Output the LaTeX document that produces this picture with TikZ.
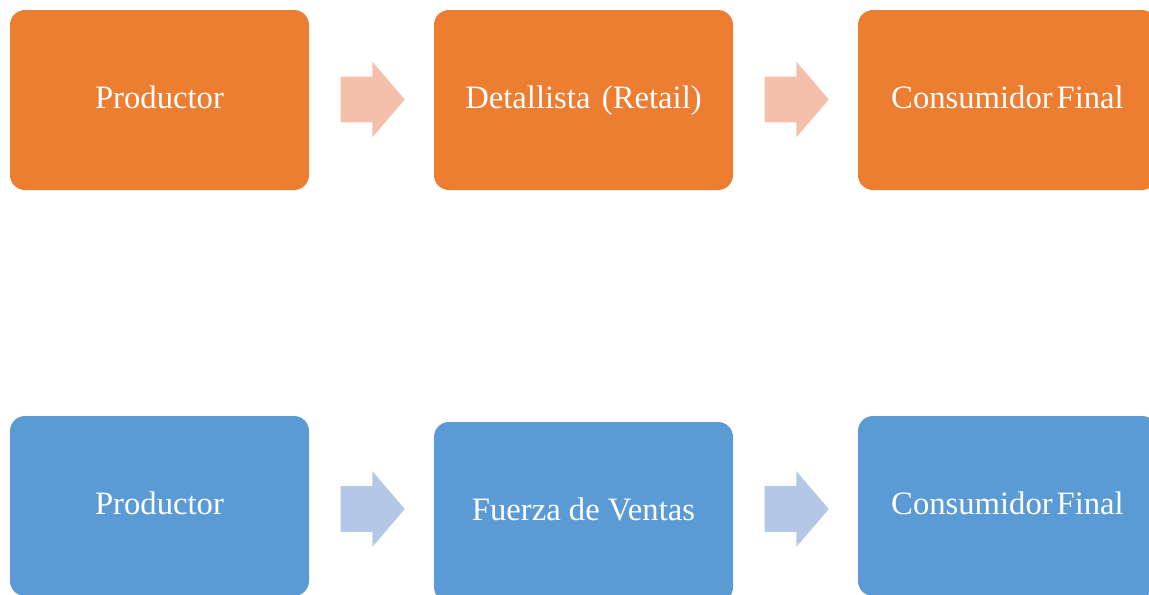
\documentclass[tikz,border=0pt]{standalone}
\usepackage{fontspec}
\setmainfont{Liberation Serif}
\usetikzlibrary{shapes.arrows}
\newlength{\du}
\setlength{\du}{0.75pt}
\definecolor{boxorange}{rgb}{0.929, 0.490, 0.192}
\definecolor{arroworange}{rgb}{0.957, 0.753, 0.675}
\definecolor{boxblue}{rgb}{0.357, 0.608, 0.835}
\definecolor{arrowblue}{rgb}{0.706, 0.780, 0.906}
\tikzset{
  stagebox/.style={rectangle, rounded corners=15\du, minimum width=299\du, minimum height=180\du,
    inner sep=0pt, text=white, text height=17.4pt, text depth=5.4pt, font=\fontsize{24.5}{29}\selectfont},
  flowarrow/.style={single arrow, inner xsep=0pt, inner ysep=22.5\du, minimum height=64\du, minimum width=75\du,
    single arrow head extend=15\du, single arrow tip angle=99, shape border rotate=0}
}
\begin{document}
\begin{tikzpicture}
\pgftransformxscale{1.000000}
\pgftransformyscale{-1.000000}
\useasboundingbox (0\du,0\du) rectangle (1149\du,594\du);
\clip (0\du,0\du) rectangle (1149\du,594\du);
% canal con detallista
\node[stagebox, fill=boxorange] (prodtop) at (159.5\du,100\du){Productor};
\node[stagebox, fill=boxorange] (retail) at (583.5\du,100\du){Detallista\hspace{0.35em}(Retail)};
\node[stagebox, fill=boxorange] (constop) at (1007.5\du,100\du){Consumidor\hspace{0.12em}Final};
\node[flowarrow, fill=arroworange] (arrowtopa) at (363\du,99.5\du){};
\node[flowarrow, fill=arroworange] (arrowtopb) at (787\du,99.5\du){};
% canal con fuerza de ventas
\node[stagebox, fill=boxblue] (prodbot) at (159.5\du,506\du){Productor};
\node[stagebox, fill=boxblue] (ventas) at (583.5\du,512\du){Fuerza de Ventas};
\node[stagebox, fill=boxblue] (consbot) at (1007.5\du,506\du){Consumidor\hspace{0.12em}Final};
\node[flowarrow, fill=arrowblue] (arrowbota) at (363\du,509\du){};
\node[flowarrow, fill=arrowblue] (arrowbotb) at (787\du,509\du){};
\end{tikzpicture}
\end{document}
